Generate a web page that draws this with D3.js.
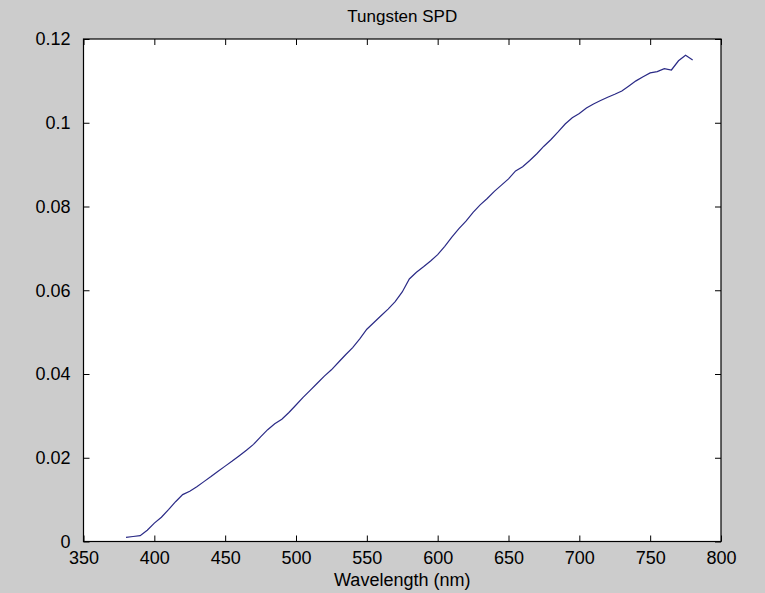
<!DOCTYPE html>
<html>
<head>
<meta charset="utf-8">
<script src="https://cdn.jsdelivr.net/npm/d3@7"></script>
<style>
  html, body { margin: 0; padding: 0; background: #cccccc; }
  svg { display: block; }
  text { font-family: "Liberation Sans", Arial, sans-serif; fill: #000; }
</style>
</head>
<body>
<svg id="chart" width="765" height="593"></svg>
<script>
// ---- data ----
const wavelengths = [380,385,390,395,400,405,410,415,420,425,430,435,440,445,450,455,460,465,470,475,
  480,485,490,495,500,505,510,515,520,525,530,535,540,545,550,555,560,565,570,575,
  580,585,590,595,600,605,610,615,620,625,630,635,640,645,650,655,660,665,670,675,
  680,685,690,695,700,705,710,715,720,725,730,735,740,745,750,755,760,765,770,775,780];
const spd = [0.0010,0.0012,0.0014,0.0027,0.0044,0.0058,0.0076,0.0095,0.0112,0.0120,
  0.0131,0.0143,0.0155,0.0168,0.0180,0.0192,0.0205,0.0218,0.0232,0.0250,
  0.0267,0.0281,0.0292,0.0308,0.0326,0.0344,0.0361,0.0378,0.0395,0.0410,
  0.0428,0.0446,0.0463,0.0484,0.0507,0.0523,0.0539,0.0555,0.0573,0.0596,
  0.0627,0.0643,0.0656,0.0670,0.0685,0.0705,0.0727,0.0747,0.0765,0.0786,
  0.0804,0.0819,0.0836,0.0851,0.0866,0.0885,0.0895,0.0910,0.0926,0.0944,
  0.0960,0.0978,0.0997,0.1012,0.1022,0.1035,0.1045,0.1053,0.1061,0.1068,
  0.1076,0.1088,0.1100,0.1110,0.1119,0.1122,0.1129,0.1126,0.1148,0.1161,0.1150];
const xTicks = [350,400,450,500,550,600,650,700,750,800];
const yTicks = [0,0.02,0.04,0.06,0.08,0.1,0.12];
const yTickLabels = ["0","0.02","0.04","0.06","0.08","0.1","0.12"];
const titleText = "Tungsten SPD";
const xLabelText = "Wavelength (nm)";

// ---- layout ----
const L = 83.5, R = 721, T = 39, B = 541.5;
const svg = d3.select("#chart");
const x = d3.scaleLinear().domain([350, 800]).range([L, R]);
const y = d3.scaleLinear().domain([0, 0.12]).range([B, T]);

svg.append("rect").attr("width", 765).attr("height", 593).attr("fill", "#cccccc");
svg.append("rect").attr("x", L).attr("y", T).attr("width", R - L).attr("height", B - T)
  .attr("fill", "#ffffff");

const tickLen = 6;
const gB = svg.append("g").attr("transform", `translate(0,${B})`)
  .call(d3.axisBottom(x).tickValues(xTicks).tickSize(-tickLen).tickPadding(10).tickFormat(d3.format("d")));
const gT = svg.append("g").attr("transform", `translate(0,${T})`)
  .call(d3.axisTop(x).tickValues(xTicks).tickSize(-tickLen).tickFormat(""));
const gL = svg.append("g").attr("transform", `translate(${L},0)`)
  .call(d3.axisLeft(y).tickValues(yTicks).tickSize(-tickLen).tickPadding(13)
    .tickFormat((d, i) => yTickLabels[i]));
const gR = svg.append("g").attr("transform", `translate(${R},0)`)
  .call(d3.axisRight(y).tickValues(yTicks).tickSize(-tickLen).tickFormat(""));

[gB, gT, gL, gR].forEach(g => {
  g.select(".domain").remove();
  g.selectAll(".tick line").attr("stroke", "#000").attr("stroke-width", 1);
  g.selectAll("text").attr("font-size", 18).attr("font-family", "Liberation Sans, Arial, sans-serif").attr("fill", "#000");
});
gB.selectAll(".tick text").attr("dy", "0.71em");

svg.append("rect").attr("x", L).attr("y", T).attr("width", R - L).attr("height", B - T)
  .attr("fill", "none").attr("stroke", "#000").attr("stroke-width", 1.2);

const line = d3.line().x((d, i) => x(wavelengths[i])).y(d => y(d));
svg.append("path").datum(spd).attr("d", line)
  .attr("fill", "none").attr("stroke", "#2a2a86").attr("stroke-width", 1.2);

svg.append("text").attr("x", (L + R) / 2).attr("y", 22).attr("text-anchor", "middle")
  .attr("font-size", 17).text(titleText);
svg.append("text").attr("x", (L + R) / 2).attr("y", 586).attr("text-anchor", "middle")
  .attr("font-size", 18).text(xLabelText);
</script>
</body>
</html>
